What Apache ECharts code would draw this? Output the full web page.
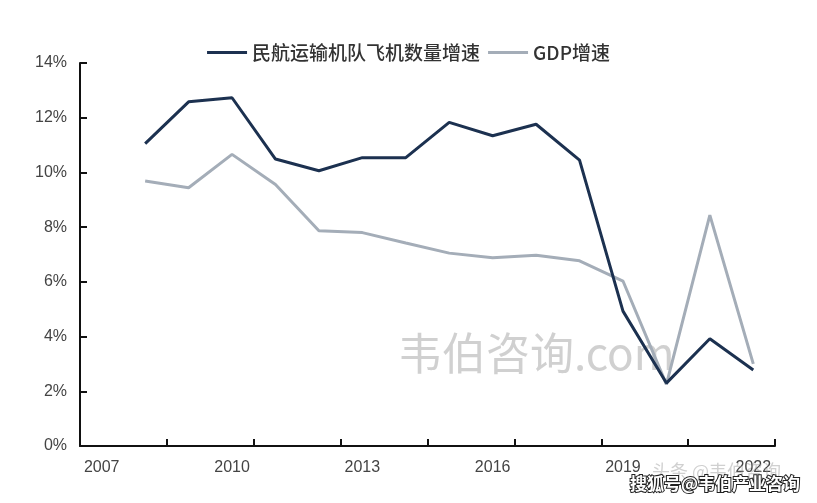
<!DOCTYPE html>
<html>
<head>
<meta charset="utf-8">
<script src="https://cdn.jsdelivr.net/npm/echarts@6/dist/echarts.min.js"></script>
<style>
html,body{margin:0;padding:0;background:#fff;}
#c{width:817px;height:503px;}
</style>
</head>
<body>
<div id="c"></div>
<script>
const years = ['2007','2008','2009','2010','2011','2012','2013','2014','2015','2016','2017','2018','2019','2020','2021','2022'];
const fleetGrowth = [null, 11.05, 12.58, 12.73, 10.49, 10.06, 10.54, 10.54, 11.83, 11.34, 11.76, 10.45, 4.93, 2.3, 3.92, 2.78];
const gdpGrowth = [null, 9.69, 9.44, 10.66, 9.56, 7.87, 7.8, 7.42, 7.05, 6.88, 6.97, 6.77, 6.03, 2.25, 8.44, 3.0];
const seriesNames = ['民航运输机队飞机数量增速', 'GDP增速'];

const chart = echarts.init(document.getElementById('c'));
chart.setOption({
  backgroundColor: '#fff',
  animation: false,
  legend: {
    top: 38,
    left: 'center',
    icon: 'rect',
    itemWidth: 40,
    itemHeight: 3,
    itemGap: 8,
    textStyle: { fontSize: 19, color: '#333', fontFamily: 'Noto Sans CJK SC', fontWeight: 500 },
    data: seriesNames
  },
  grid: { left: 80, right: 42, top: 63, bottom: 57, containLabel: false },
  xAxis: {
    type: 'category',
    data: years,
    boundaryGap: true,
    axisLine: { show: true, lineStyle: { color: '#111', width: 2 } },
    axisTick: { show: true, inside: true, length: 7, interval: 1, lineStyle: { color: '#111', width: 2 } },
    axisLabel: { interval: 2, margin: 14, fontSize: 16, color: '#444', fontFamily: 'Liberation Sans' },
    splitLine: { show: false }
  },
  yAxis: {
    type: 'value',
    min: 0, max: 14, interval: 2,
    axisLine: { show: true, lineStyle: { color: '#111', width: 2 } },
    axisTick: { show: true, inside: true, length: 7, lineStyle: { color: '#111', width: 2 } },
    axisLabel: { formatter: '{value}%', margin: 13, fontSize: 16, color: '#444', fontFamily: 'Liberation Sans' },
    splitLine: { show: false }
  },
  graphic: [
    { type: 'text', left: 398, top: 331, z: 0, silent: true,
      style: { text: '韦伯咨询.com', fontSize: 44, fill: 'rgba(200,200,200,0.85)', fontFamily: 'Noto Sans CJK SC' } },
    { type: 'text', left: 652, top: 462, z: 99, silent: true,
      style: { text: '头条 @韦伯咨询', fontSize: 18, fill: 'rgba(150,150,150,0.45)', fontFamily: 'Noto Sans CJK SC' } },
    { type: 'text', right: 16, top: 474, z: 100, silent: true,
      style: { text: '搜狐号@韦伯产业咨询', fontSize: 17, fontWeight: 'bold', fill: '#fff', stroke: '#222', lineWidth: 2, fontFamily: 'Noto Sans CJK SC' } }
  ],
  series: [
    { name: seriesNames[0], type: 'line', data: fleetGrowth, showSymbol: false, symbol: 'none',
      lineStyle: { color: '#1c3150', width: 3 }, itemStyle: { color: '#1c3150' }, z: 3 },
    { name: seriesNames[1], type: 'line', data: gdpGrowth, showSymbol: false, symbol: 'none',
      lineStyle: { color: '#a4adb8', width: 3 }, itemStyle: { color: '#a4adb8' }, z: 2 }
  ]
});
</script>
</body>
</html>
